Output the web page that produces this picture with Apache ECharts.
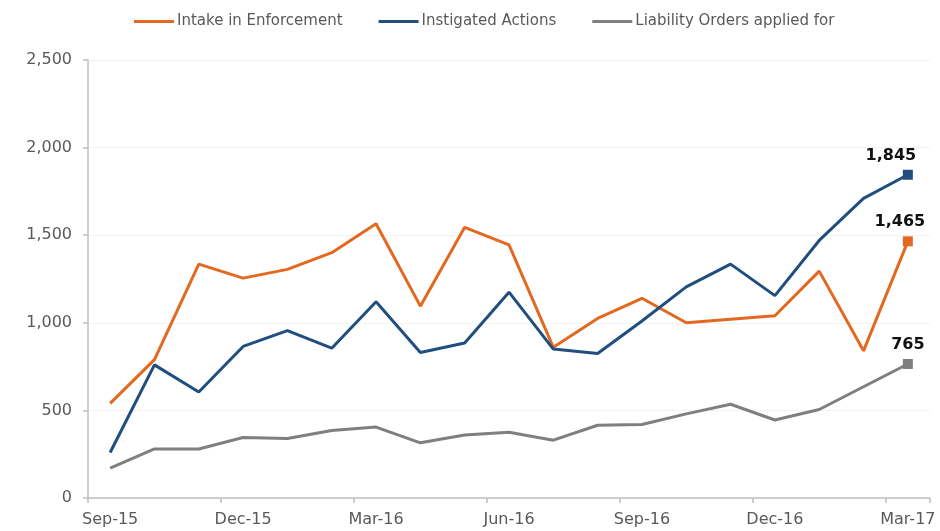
<!DOCTYPE html>
<html>
<head>
<meta charset="utf-8">
<script src="https://cdn.jsdelivr.net/npm/echarts@6/dist/echarts.min.js"></script>
<style>
  html, body { margin: 0; padding: 0; background: #fff; }
  #chart { width: 940px; height: 531px; }
</style>
</head>
<body>
<div id="chart"></div>
<script>
// Monthly enforcement activity, Sep-15 to Mar-17
const months = ['Sep-15','Oct-15','Nov-15','Dec-15','Jan-16','Feb-16','Mar-16','Apr-16','May-16',
  'Jun-16','Jul-16','Aug-16','Sep-16','Oct-16','Nov-16','Dec-16','Jan-17','Feb-17','Mar-17'];
const intake = [540, 790, 1335, 1255, 1305, 1400, 1565, 1095, 1545, 1445, 860, 1025, 1140, 1000, 1020, 1040, 1295, 840, 1465];
const instigated = [260, 760, 605, 865, 955, 855, 1120, 830, 885, 1175, 850, 825, 1010, 1205, 1335, 1155, 1470, 1710, 1845];
const liability = [170, 280, 280, 345, 340, 385, 405, 315, 360, 375, 330, 415, 420, 480, 535, 445, 505, 635, 765];
const yTicks = { min: 0, max: 2500, interval: 500 };

const colors = { intake: '#E2691F', instigated: '#1F4E7F', liability: '#7F7F7F' };
const FONT = 'DejaVu Sans, Liberation Sans, sans-serif';

// Only the latest month gets a square marker and a value label
function withEndMarker(values, color, labelOffset) {
  return values.map((v, i) => {
    if (i !== values.length - 1) return v;
    return {
      value: v,
      symbol: 'rect',
      symbolSize: 10,
      itemStyle: { color: color },
      label: {
        show: true,
        position: 'top',
        offset: labelOffset,
        distance: 6,
        color: '#111',
        fontWeight: 'bold',
        fontSize: 16,
        fontFamily: FONT,
        formatter: p => p.value.toLocaleString('en-US')
      }
    };
  });
}

function lineSeries(name, values, color, labelOffset) {
  return {
    name: name,
    type: 'line',
    data: withEndMarker(values, color, labelOffset),
    symbol: 'none',
    showSymbol: true,
    lineStyle: { color: color, width: 3 },
    itemStyle: { color: color },
    emphasis: { disabled: true },
    z: 3
  };
}

const chart = echarts.init(document.getElementById('chart'), null, { renderer: 'canvas' });
chart.setOption({
  animation: false,
  backgroundColor: '#fff',
  textStyle: { fontFamily: FONT },
  legend: {
    top: 9,
    left: 129,
    itemWidth: 40,
    itemHeight: 3,
    itemGap: 36,
    icon: 'rect',
    textStyle: { color: '#595959', fontSize: 15, fontFamily: FONT, padding: [0, 0, 0, -2] },
    data: ['Intake in Enforcement', 'Instigated Actions', 'Liability Orders applied for']
  },
  grid: { left: 88, right: 10, top: 60, bottom: 33 },
  xAxis: {
    type: 'category',
    data: months,
    boundaryGap: true,
    axisLine: { lineStyle: { color: '#BFBFBF', width: 1.5 } },
    axisTick: { show: true, interval: 2, length: 5, lineStyle: { color: '#BFBFBF', width: 1.5 } },
    axisLabel: { interval: 2, color: '#595959', fontSize: 16, fontFamily: FONT, margin: 14 },
    splitLine: { show: false }
  },
  yAxis: {
    type: 'value',
    min: yTicks.min,
    max: yTicks.max,
    interval: yTicks.interval,
    axisLine: { show: true, lineStyle: { color: '#BFBFBF', width: 1.5 } },
    axisTick: { show: true, length: 5, lineStyle: { color: '#BFBFBF', width: 1.5 } },
    axisLabel: {
      color: '#595959', fontSize: 16, fontFamily: FONT, margin: 16,
      formatter: v => v.toLocaleString('en-US')
    },
    splitLine: { show: true, lineStyle: { color: '#F2F2F2', width: 1 } }
  },
  series: [
    lineSeries('Intake in Enforcement', intake, colors.intake, [-8, 0]),
    lineSeries('Instigated Actions', instigated, colors.instigated, [-17, 0]),
    lineSeries('Liability Orders applied for', liability, colors.liability, [0, 0])
  ]
});
</script>
</body>
</html>
